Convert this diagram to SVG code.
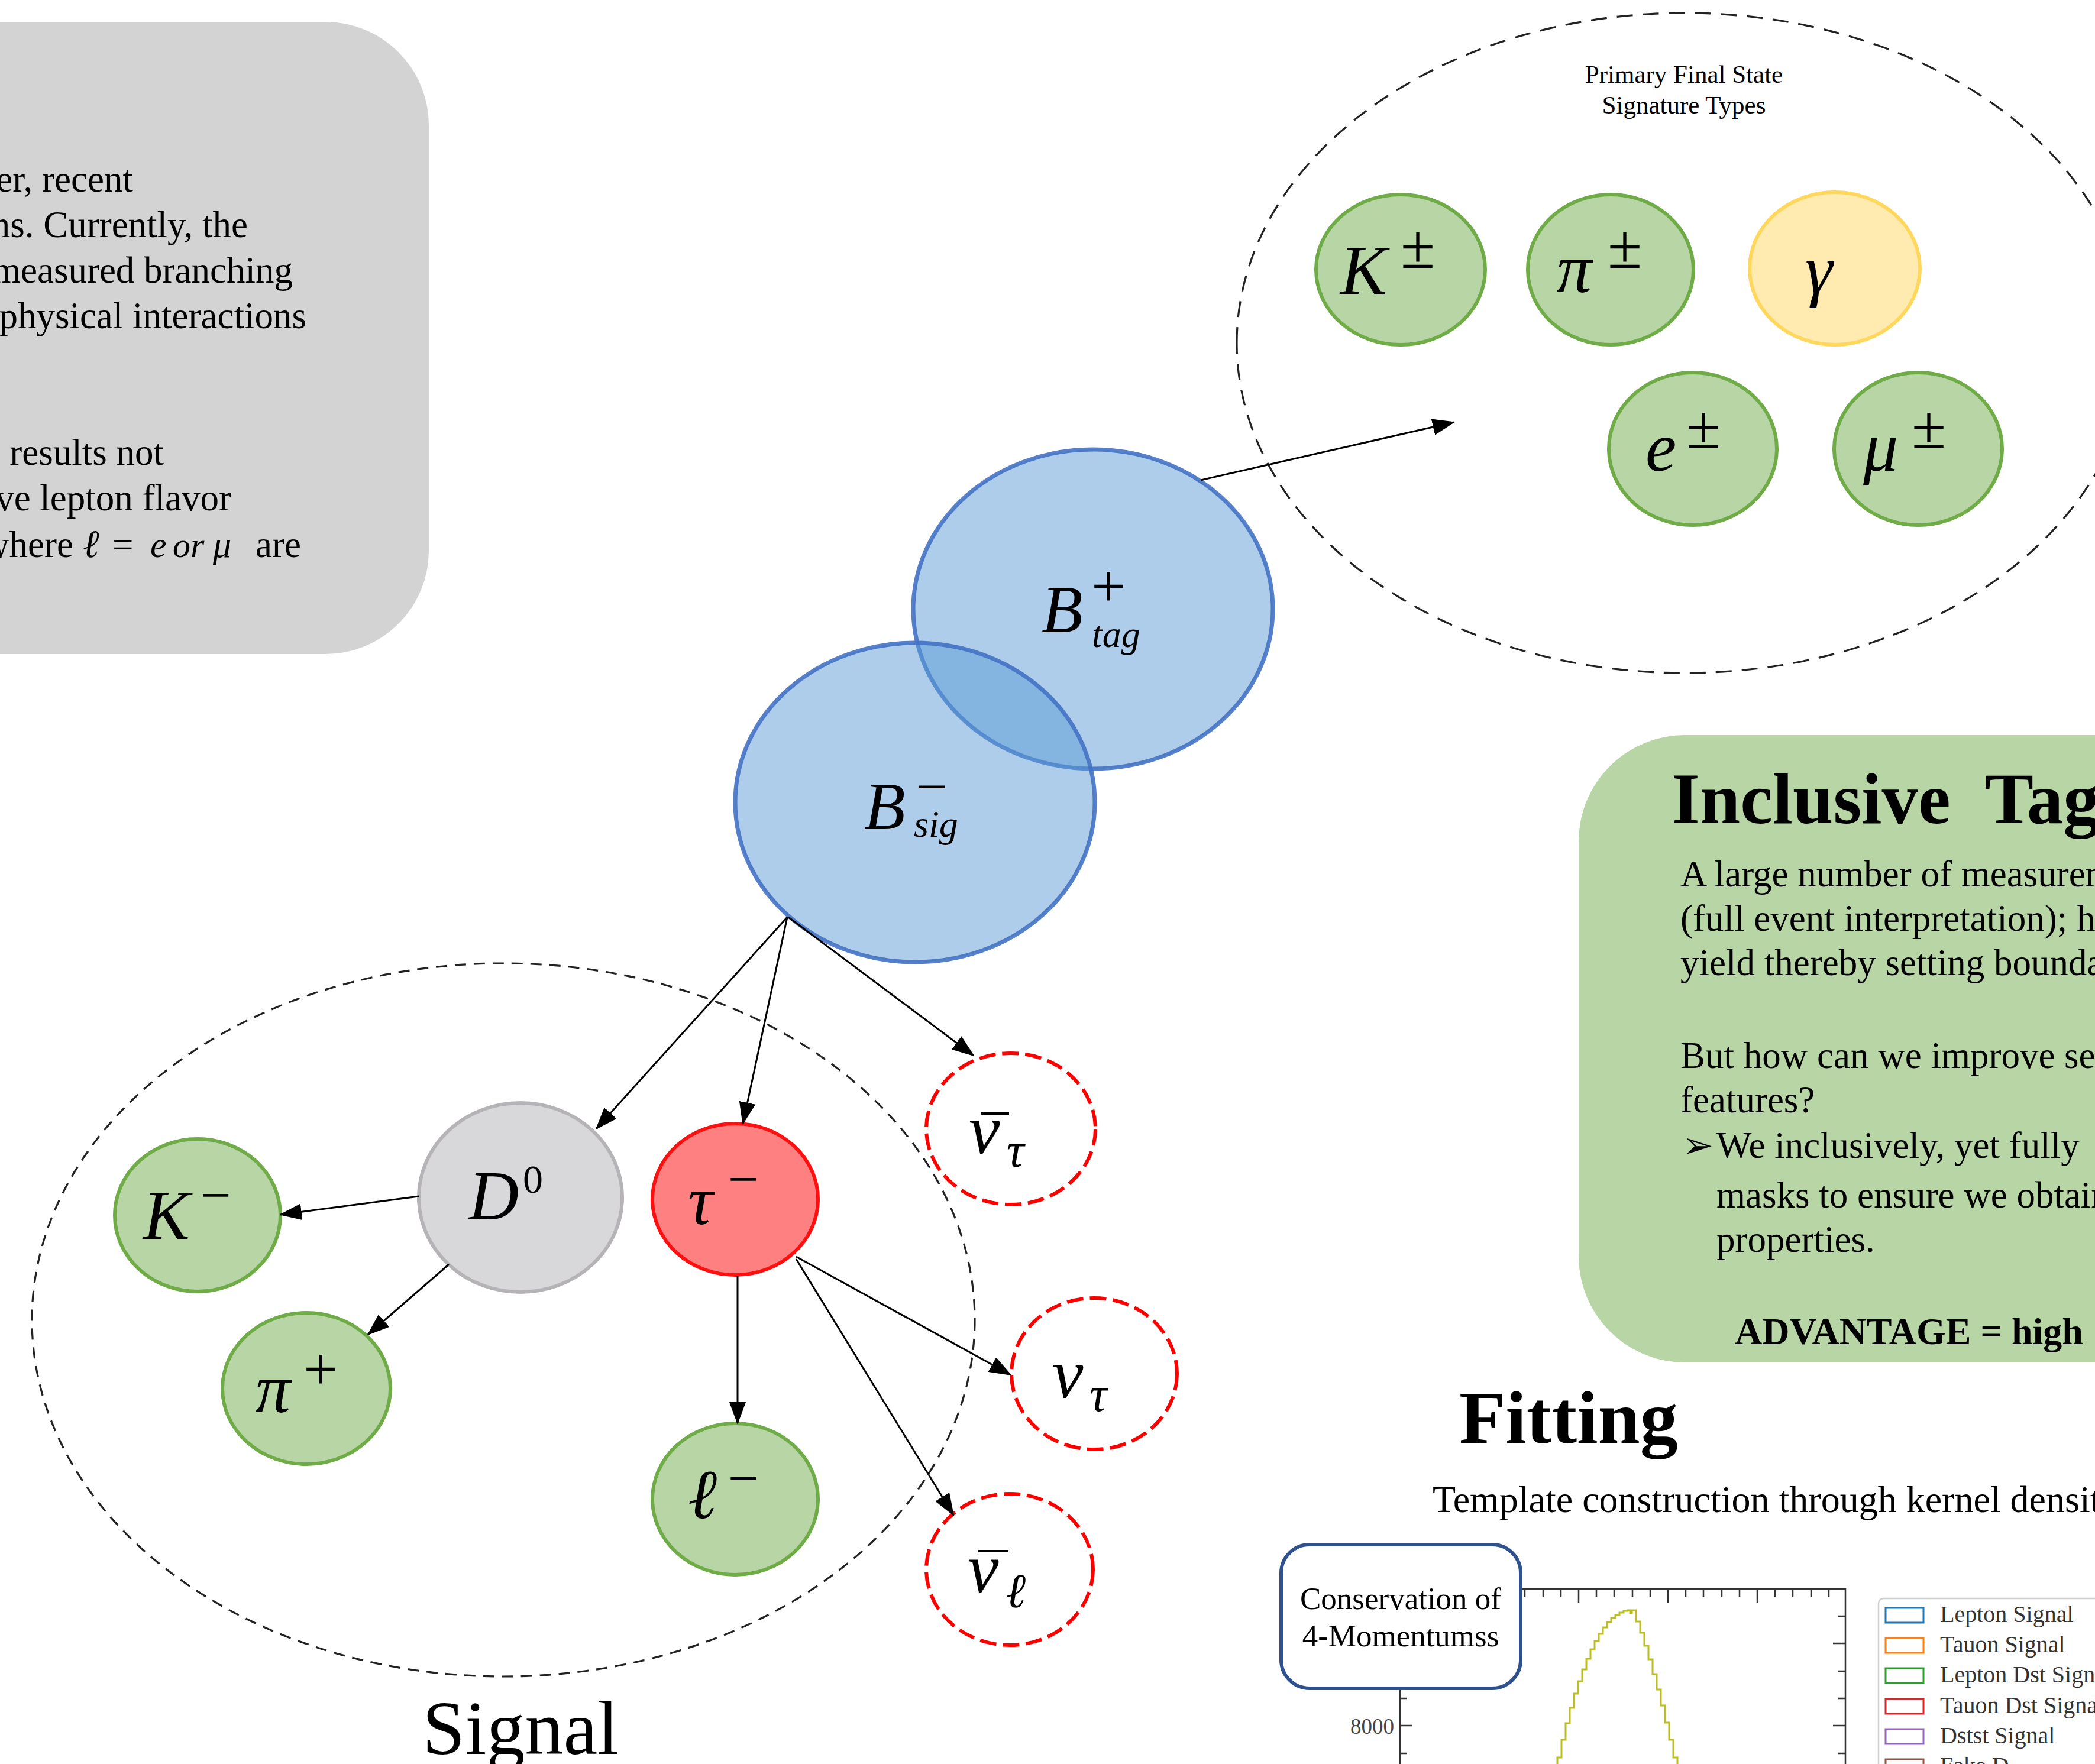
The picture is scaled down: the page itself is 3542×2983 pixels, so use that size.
<svg xmlns="http://www.w3.org/2000/svg" width="3542" height="2983" viewBox="0 0 3542 2983">
<style>
.serif{font-family:"Liberation Serif","DejaVu Serif",serif;}
.m{font-family:"Liberation Serif","DejaVu Serif",serif;font-style:italic;fill:#000;}
.u{font-family:"Liberation Serif","DejaVu Serif",serif;fill:#000;}
.body{font-family:"Liberation Serif","DejaVu Serif",serif;font-size:63px;fill:#000;}
.bnode{fill:#5b9bd5;fill-opacity:0.5;stroke:#4472c4;stroke-width:7;stroke-opacity:0.9;}
.green{fill:#b8d6a5;stroke:#6fac47;stroke-width:6;}
.yellow{fill:#ffeab0;stroke:#ffd75c;stroke-width:6;}
.gray{fill:#d8d7d9;stroke:#b5b3b5;stroke-width:6;}
.red{fill:#ff8080;stroke:#ff1010;stroke-width:6;}
.nu{fill:#fff;stroke:#ff0000;stroke-width:6;stroke-dasharray:28 11;}
.conn{stroke:#000;stroke-width:3;fill:none;marker-end:url(#ah);}
.dash{fill:none;stroke:#222;stroke-width:3.2;}
.tick{stroke:#333;stroke-width:2.5;fill:none;}
.leg{font-family:"Liberation Serif","DejaVu Serif",serif;font-size:40px;fill:#333;}
</style>
<defs>
<marker id="ah" markerWidth="38" markerHeight="28" refX="36" refY="14" orient="auto" markerUnits="userSpaceOnUse">
<path d="M0,0 L38,14 L0,28 Z" fill="#000"/>
</marker>
</defs>
<rect width="3542" height="2983" fill="#fff"/>

<!-- Left gray text panel -->
<g id="intro-panel">
<path d="M-60 37 H550 A175 175 0 0 1 725 212 V931 A175 175 0 0 1 550 1106 H-60 Z" fill="#d3d3d3"/>
<text class="body" text-anchor="end" x="225" y="324">er, recent</text>
<text class="body" text-anchor="end" x="419" y="401">ns. Currently, the</text>
<text class="body" text-anchor="end" x="495" y="478">measured branching</text>
<text class="body" text-anchor="end" x="518" y="555">physical interactions</text>
<text class="body" text-anchor="end" x="277" y="786">results not</text>
<text class="body" text-anchor="end" x="391" y="863">ve lepton flavor</text>
<text class="body" text-anchor="end" x="124" y="942">where</text>
<text class="m" font-size="66" x="140" y="942">ℓ</text>
<text class="body" x="190" y="942">=</text>
<text class="m" font-size="62" x="254" y="942">e</text>
<text class="m" font-size="60" x="292" y="942">or</text>
<text class="m" font-size="62" x="360" y="942">μ</text>
<text class="body" x="432" y="942">are</text>
</g>

<!-- Tag final-state ellipse -->
<g id="tag-group">
<path class="dash" stroke-dasharray="27 17" stroke-width="3.6" d="M2091 580 A757 558 0 0 1 2848 22 A757 558 0 0 1 3605 580 A757 558 0 0 1 2848 1138 A757 558 0 0 1 2091 580 Z"/>
<text class="u" font-size="43" text-anchor="middle" x="2847" y="140">Primary Final State</text>
<text class="u" font-size="43" text-anchor="middle" x="2847" y="192">Signature Types</text>
</g>
<g id="node-Kpm">
<ellipse class="green" cx="2368" cy="456" rx="143" ry="127"/>
<text class="m" font-size="118" x="2266" y="497">K</text>
<text class="u" font-size="106" x="2368" y="453">±</text>
</g>
<g id="node-pipm">
<ellipse class="green" cx="2723" cy="456" rx="140" ry="127"/>
<text class="m" font-size="118" x="2632" y="494">π</text>
<text class="u" font-size="106" x="2718" y="453">±</text>
</g>
<g id="node-gamma">
<ellipse class="yellow" cx="3102" cy="454" rx="144" ry="129"/>
<text class="m" font-size="118" x="3052" y="496">γ</text>
</g>
<g id="node-epm">
<ellipse class="green" cx="2862" cy="759" rx="142" ry="129"/>
<text class="m" font-size="118" x="2782" y="796">e</text>
<text class="u" font-size="106" x="2851" y="758">±</text>
</g>
<g id="node-mupm">
<ellipse class="green" cx="3243" cy="759" rx="142" ry="129"/>
<text class="m" font-size="118" x="3150" y="796">μ</text>
<text class="u" font-size="106" x="3232" y="758">±</text>
</g>

<!-- Signal group -->
<g id="signal-group">
<ellipse class="dash" stroke-dasharray="19 13" stroke-width="3" cx="851" cy="2232" rx="797" ry="603"/>
<text class="u" font-size="130" x="714" y="2966">Signal</text>
</g>

<!-- B mesons -->
<g id="node-Btag">
<ellipse class="bnode" cx="1848" cy="1030" rx="304" ry="270"/>
<text class="m" font-size="114" x="1761" y="1069">B</text>
<text class="u" font-size="104" x="1845" y="1026">+</text>
<text class="m" font-size="64" x="1846" y="1094">tag</text>
</g>
<g id="node-Bsig">
<ellipse class="bnode" cx="1547" cy="1357" rx="304" ry="270"/>
<text class="m" font-size="114" x="1461" y="1402">B</text>
<text class="u" font-size="94" x="1549" y="1362">−</text>
<text class="m" font-size="64" x="1545" y="1415">sig</text>
</g>

<!-- Signal nodes -->
<g id="node-Kminus">
<ellipse class="green" cx="334" cy="2055" rx="140" ry="129"/>
<text class="m" font-size="118" x="242" y="2095">K</text>
<text class="u" font-size="92" x="339" y="2052">−</text>
</g>
<g id="node-D0">
<ellipse class="gray" cx="880" cy="2025" rx="172" ry="160"/>
<text class="m" font-size="118" x="792" y="2062">D</text>
<text class="u" font-size="68" x="884" y="2017">0</text>
</g>
<g id="node-tau">
<ellipse class="red" cx="1243" cy="2028" rx="140" ry="128"/>
<text class="m" font-size="118" x="1163" y="2070">τ</text>
<text class="u" font-size="92" x="1231" y="2025">−</text>
</g>
<g id="node-piplus">
<ellipse class="green" cx="518" cy="2348" rx="142" ry="128"/>
<text class="m" font-size="118" x="432" y="2388">π</text>
<text class="u" font-size="104" x="513" y="2350">+</text>
</g>
<g id="node-lminus">
<ellipse class="green" cx="1243" cy="2535" rx="140" ry="128"/>
<text class="m" font-size="118" x="1163" y="2567">ℓ</text>
<text class="u" font-size="92" x="1231" y="2531">−</text>
</g>
<g id="node-nubar-tau">
<ellipse class="nu" cx="1709" cy="1909" rx="143" ry="128"/>
<text class="m" font-size="118" x="1638" y="1950">ν</text>
<line x1="1659" y1="1883" x2="1706" y2="1883" stroke="#000" stroke-width="4"/>
<text class="m" font-size="82" x="1702" y="1973">τ</text>
</g>
<g id="node-nu-tau">
<ellipse class="nu" cx="1850" cy="2323" rx="140" ry="128"/>
<text class="m" font-size="118" x="1779" y="2363">ν</text>
<text class="m" font-size="82" x="1842" y="2386">τ</text>
</g>
<g id="node-nubar-l">
<ellipse class="nu" cx="1707" cy="2654" rx="141" ry="128"/>
<text class="m" font-size="118" x="1636" y="2692">ν</text>
<line x1="1654" y1="2623" x2="1705" y2="2623" stroke="#000" stroke-width="4"/>
<text class="m" font-size="82" x="1700" y="2718">ℓ</text>
</g>

<!-- Connectors -->
<g id="connectors">
<line class="conn" x1="2030" y1="812" x2="2458" y2="714"/>
<line class="conn" x1="1331" y1="1551" x2="1008" y2="1909"/>
<line class="conn" x1="1331" y1="1551" x2="1256" y2="1900"/>
<line class="conn" x1="1333" y1="1551" x2="1646" y2="1785"/>
<line class="conn" x1="708" y1="2023" x2="474" y2="2054"/>
<line class="conn" x1="759" y1="2138" x2="622" y2="2257"/>
<line class="conn" x1="1247" y1="2157" x2="1247" y2="2407"/>
<line class="conn" x1="1346" y1="2125" x2="1709" y2="2325"/>
<line class="conn" x1="1346" y1="2129" x2="1612" y2="2562"/>
</g>

<!-- Inclusive tag panel -->
<g id="inclusive-panel">
<path d="M3700 1243 H2849 A180 180 0 0 0 2669 1423 V2124 A180 180 0 0 0 2849 2304 H3700 Z" fill="#b8d6a5"/>
<text class="u" font-weight="bold" font-size="123" word-spacing="30" x="2826" y="1392">Inclusive Tag</text>
<text class="body" x="2841" y="1499">A large number of measurem</text>
<text class="body" x="2841" y="1574">(full event interpretation); h</text>
<text class="body" x="2841" y="1649">yield thereby setting bounda</text>
<text class="body" x="2841" y="1806">But how can we improve se</text>
<text class="body" x="2841" y="1881">features?</text>
<text class="body" x="2844" y="1958">➢</text>
<text class="body" x="2902" y="1958">We inclusively, yet fully</text>
<text class="body" x="2902" y="2042">masks to ensure we obtain</text>
<text class="body" x="2902" y="2117">properties.</text>
<text class="u" font-weight="bold" font-size="64" x="2933" y="2273">ADVANTAGE = high</text>
</g>

<!-- Fitting section -->
<g id="fitting">
<text class="u" font-weight="bold" font-size="128" x="2467" y="2440">Fitting</text>
<text class="u" font-size="64" x="2422" y="2557">Template construction through kernel densit</text>
</g>

<!-- Chart -->
<g id="chart">
<path class="tick" stroke-width="3" d="M2367 2983 V2687 H3120 V2983"/>
<path class="tick" d="M2578 2687v13M2609 2687v13M2639 2687v13M2669 2687v23M2699 2687v13M2729 2687v13M2760 2687v13M2790 2687v13M2820 2687v23M2850 2687v13M2880 2687v13M2911 2687v13M2941 2687v13M2971 2687v23M3001 2687v13M3031 2687v13M3062 2687v13M3092 2687v13"/>
<path class="tick" d="M3120 2733h-12M3120 2779h-21M3120 2826h-12M3120 2872h-12M3120 2918h-21M3120 2965h-12M2367 2872h12M2367 2918h21M2367 2965h12"/>
<text class="u" font-size="37" text-anchor="end" x="2357" y="2932" style="fill:#444">8000</text>
<path fill="none" stroke="#bcbd22" stroke-width="3" d="M2633 2990 V2972 H2640 V2942 H2647 V2914 H2654 V2888 H2661 V2864 H2668 V2843 H2675 V2823 H2682 V2805 H2689 V2789 H2696 V2775 H2703 V2763 H2710 V2752 H2717 V2743 H2724 V2736 H2731 V2731 H2738 V2727 H2745 V2724 H2752 V2723 H2756 V2728 H2759 V2723 H2766 V2742 H2773 V2761 H2780 V2783 H2787 V2806 H2794 V2831 H2801 V2857 H2808 V2884 H2815 V2913 H2822 V2942 H2829 V2972 H2836 V2990"/>
<rect x="3176" y="2703" width="520" height="420" rx="8" fill="#fff" stroke="#d0d0d0" stroke-width="2.5"/>
<rect x="3188" y="2719" width="64" height="25" fill="none" stroke="#1f77b4" stroke-width="3"/>
<rect x="3188" y="2770" width="64" height="25" fill="none" stroke="#ff7f0e" stroke-width="3"/>
<rect x="3188" y="2821" width="64" height="25" fill="none" stroke="#2ca02c" stroke-width="3"/>
<rect x="3188" y="2873" width="64" height="25" fill="none" stroke="#d62728" stroke-width="3"/>
<rect x="3188" y="2924" width="64" height="25" fill="none" stroke="#9467bd" stroke-width="3"/>
<rect x="3188" y="2975" width="64" height="25" fill="none" stroke="#8c564b" stroke-width="3"/>
<text class="leg" x="3280" y="2743">Lepton Signal</text>
<text class="leg" x="3280" y="2794">Tauon Signal</text>
<text class="leg" x="3280" y="2845">Lepton Dst Sign</text>
<text class="leg" x="3280" y="2897">Tauon Dst Signa</text>
<text class="leg" x="3280" y="2948">Dstst Signal</text>
<text class="leg" x="3280" y="2999">Fake D</text>
</g>

<!-- Conservation box -->
<g id="conservation-box">
<rect x="2166" y="2612" width="405" height="243" rx="48" fill="#fff" stroke="#2f528f" stroke-width="6"/>
<text class="u" font-size="53" text-anchor="middle" x="2368" y="2721">Conservation of</text>
<text class="u" font-size="53" text-anchor="middle" x="2368" y="2784">4-Momentumss</text>
</g>
</svg>
